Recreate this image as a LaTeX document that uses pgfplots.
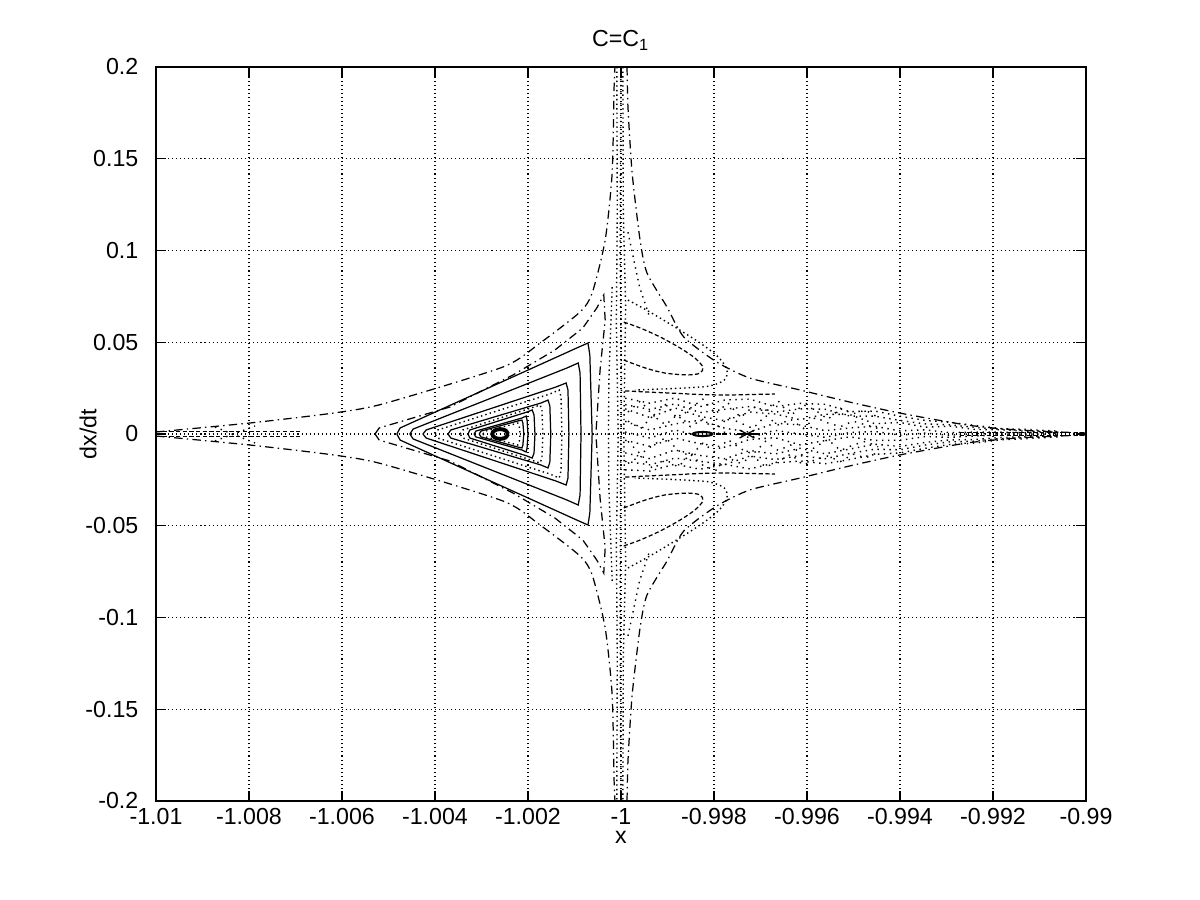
\documentclass[border=0pt]{standalone}
\usepackage{pgfplots}
\pgfplotsset{compat=1.18}
\usepackage{fontspec}
\setmainfont{Liberation Sans}
\newcommand\mfont{\fontsize{6.6}{7.6}\selectfont}
\pgfplotsset{
  sol/.style={black, line width=0.35pt, mark=none},
  dts/.style={black, line width=0.4pt, mark=none, dash pattern=on 0.4pt off 0.9pt},
  dsh/.style={black, line width=0.35pt, mark=none, dash pattern=on 1.2pt off 0.7pt},
  dd/.style={black, line width=0.35pt, mark=none, dash pattern=on 2.4pt off 1.2pt on 0.4pt off 1.2pt},
  chs/.style={black, line width=0.4pt, mark=none, dash pattern=on 0.4pt off 1.3pt},
  chz/.style={black, line width=0.4pt, mark=none, dash pattern=on 0.4pt off 1.7pt},
}
\begin{document}
\begin{tikzpicture}
\useasboundingbox (-1.56cm,-0.99cm) rectangle (10.44cm,8.01cm);
\begin{axis}[
  scale only axis, width=9.3cm, height=7.34cm,
  xmin=-1.01, xmax=-0.99, ymin=-0.2, ymax=0.2,
  xtick={-1.01,-1.008,-1.006,-1.004,-1.002,-1,-0.998,-0.996,-0.994,-0.992,-0.99},
  xticklabels={-1.01,-1.008,-1.006,-1.004,-1.002,-1,-0.998,-0.996,-0.994,-0.992,-0.99},
  ytick={-0.2,-0.15,-0.1,-0.05,0,0.05,0.1,0.15,0.2},
  yticklabels={-0.2,-0.15,-0.1,-0.05,0,0.05,0.1,0.15,0.2},
  tick align=inside, major tick length=2.8pt,
  every tick/.style={black, line width=0.4pt},
  axis line style={line width=0.4pt},
  grid=major,
  major grid style={black, line width=0.3pt, dash pattern=on 0.3pt off 0.85pt},
  tick label style={font=\mfont},
  xticklabel style={yshift=1.5pt},
  yticklabel style={xshift=-1.5pt},
  title={C=C\textsubscript{1}},
  xlabel={x}, ylabel={dx/dt},
  every axis title/.style={at={(0.5,1)}, anchor=base, yshift=5.7pt, font=\mfont},
  every axis x label/.style={at={(0.5,0)}, anchor=base, yshift=-12pt, font=\mfont},
  every axis y label/.style={at={(0,0.5)}, anchor=center, rotate=90, yshift=19.3pt, font=\mfont},
]
% outer separatrix arms
\addplot[dd, smooth, tension=0.4] coordinates {(-1.01,0.0011) (-1.00798,0.0060) (-1.00619,0.0114) (-1.00512,0.0164) (-1.00254,0.0365) (-1.00174,0.0496) (-1.00088,0.0665) (-1.00062,0.0768) (-1.00034,0.1057) (-1.00019,0.1422) (-1.00015,0.1875) (-1.00013,0.2)};
\addplot[dd, smooth, tension=0.4] coordinates {(-1.01,-0.0011) (-1.00798,-0.0060) (-1.00619,-0.0114) (-1.00512,-0.0164) (-1.00254,-0.0365) (-1.00174,-0.0496) (-1.00088,-0.0665) (-1.00062,-0.0768) (-1.00034,-0.1057) (-1.00019,-0.1422) (-1.00015,-0.1875) (-1.00013,-0.2)};
\addplot[dd, smooth, tension=0.4] coordinates {(-0.99987,0.2) (-0.99985,0.1782) (-0.99976,0.1422) (-0.99959,0.1057) (-0.99944,0.0877) (-0.99901,0.0692) (-0.99865,0.0529) (-0.99794,0.0392) (-0.99723,0.0305) (-0.99615,0.0240) (-0.99508,0.0174) (-0.99400,0.0114) (-0.99256,0.0049) (-0.99148,0.0022) (-0.99,0.0005)};
\addplot[dd, smooth, tension=0.4] coordinates {(-0.99987,-0.2) (-0.99985,-0.1782) (-0.99976,-0.1422) (-0.99959,-0.1057) (-0.99944,-0.0877) (-0.99901,-0.0692) (-0.99865,-0.0529) (-0.99794,-0.0392) (-0.99723,-0.0305) (-0.99615,-0.0240) (-0.99508,-0.0174) (-0.99400,-0.0114) (-0.99256,-0.0049) (-0.99148,-0.0022) (-0.99,-0.0005)};
% closed orbits around the island
\addplot[dd] coordinates {(-1.00529,0) (-1.00520,0.0033) (-1.00368,0.0147) (-1.00232,0.0322) (-1.00142,0.0458) (-1.00082,0.0578) (-1.00052,0.0687) (-1.00037,0.0758) (-1.00034,0.0621) (-1.00045,0.0349) (-1.00054,0) (-1.00045,-0.0349) (-1.00034,-0.0621) (-1.00037,-0.0758) (-1.00052,-0.0687) (-1.00082,-0.0578) (-1.00142,-0.0458) (-1.00232,-0.0322) (-1.00368,-0.0147) (-1.00520,-0.0033) (-1.00529,0)};
\addplot[sol] coordinates {(-1.00482,0) (-1.00475,0.0033) (-1.00095,0.0469) (-1.00071,0.0496) (-1.00067,0.0431) (-1.00062,0) (-1.00067,-0.0431) (-1.00071,-0.0496) (-1.00095,-0.0469) (-1.00475,-0.0033) (-1.00482,0)};
\addplot[sol] coordinates {(-1.00454,0) (-1.00447,0.0027) (-1.00116,0.0360) (-1.00092,0.0387) (-1.00088,0.0332) (-1.00086,0) (-1.00088,-0.0332) (-1.00092,-0.0387) (-1.00116,-0.0360) (-1.00447,-0.0027) (-1.00454,0)};
\addplot[sol] coordinates {(-1.00426,0) (-1.00419,0.0022) (-1.00140,0.0256) (-1.00118,0.0278) (-1.00114,0.0240) (-1.00112,0) (-1.00114,-0.0240) (-1.00118,-0.0278) (-1.00140,-0.0256) (-1.00419,-0.0022) (-1.00426,0)};
\addplot[dts] coordinates {(-1.00400,0) (-1.00394,0.0022) (-1.00153,0.0218) (-1.00133,0.0240) (-1.00129,0.0202) (-1.00127,0) (-1.00129,-0.0202) (-1.00133,-0.0240) (-1.00153,-0.0218) (-1.00394,-0.0022) (-1.00400,0)};
\addplot[sol] coordinates {(-1.00372,0) (-1.00366,0.0022) (-1.00172,0.0169) (-1.00157,0.0185) (-1.00153,0.0153) (-1.00151,0) (-1.00153,-0.0153) (-1.00157,-0.0185) (-1.00172,-0.0169) (-1.00366,-0.0022) (-1.00372,0)};
\addplot[dts] coordinates {(-1.00346,0) (-1.00340,0.0022) (-1.00187,0.0147) (-1.00174,0.0158) (-1.00170,0.0131) (-1.00168,0) (-1.00170,-0.0131) (-1.00174,-0.0158) (-1.00187,-0.0147) (-1.00340,-0.0022) (-1.00346,0)};
\addplot[sol] coordinates {(-1.00329,0) (-1.00325,0.0022) (-1.00202,0.0120) (-1.00191,0.0131) (-1.00187,0.0104) (-1.00185,0) (-1.00187,-0.0104) (-1.00191,-0.0131) (-1.00202,-0.0120) (-1.00325,-0.0022) (-1.00329,0)};
\addplot[sol] coordinates {(-1.00316,0) (-1.00312,0.0016) (-1.00213,0.0087) (-1.00204,0.0098) (-1.00202,0.0076) (-1.00200,0) (-1.00202,-0.0076) (-1.00204,-0.0098) (-1.00213,-0.0087) (-1.00312,-0.0016) (-1.00316,0)};
\addplot[sol] coordinates {(-1.00305,0) (-1.00301,0.0016) (-1.00222,0.0071) (-1.00213,0.0076) (-1.00211,0.0060) (-1.00209,0) (-1.00211,-0.0060) (-1.00213,-0.0076) (-1.00222,-0.0071) (-1.00301,-0.0016) (-1.00305,0)};
\addplot[dts] coordinates {(-1.00297,0) (-1.00292,0.0016) (-1.00228,0.0055) (-1.00222,0.0060) (-1.00219,0.0044) (-1.00217,0) (-1.00219,-0.0044) (-1.00222,-0.0060) (-1.00228,-0.0055) (-1.00292,-0.0016) (-1.00297,0)};
\addplot[black, line width=1.1pt, smooth, mark=none] coordinates {(-1.00243,0) (-1.00248,0.0019) (-1.00260,0.0027) (-1.00272,0.0019) (-1.00277,0) (-1.00272,-0.0019) (-1.00260,-0.0027) (-1.00248,-0.0019) (-1.00243,0)};
% chaotic strip along x = -1
\addplot[dts] coordinates {(-1.00009,0.2) (-1.00008,0.12) (-1.00010,0.06) (-1.00006,0) (-1.00010,-0.06) (-1.00008,-0.12) (-1.00009,-0.2)};
\addplot[chs] coordinates {(-1.0,0.2) (-1.00002,0.1) (-0.99999,0.03) (-1.00001,-0.03) (-1.00002,-0.1) (-1.0,-0.2)};
\addplot[dts] coordinates {(-0.99996,0.2) (-0.99995,0.12) (-0.99990,0.07) (-0.99994,0) (-0.99990,-0.07) (-0.99995,-0.12) (-0.99996,-0.2)};
\addplot[chs] coordinates {(-0.99985,0.11) (-0.99960,0.08) (-0.99940,0.065)};
\addplot[chs] coordinates {(-0.99985,-0.11) (-0.99960,-0.08) (-0.99940,-0.065)};
\addplot[dts] coordinates {(-1.00019,0.08) (-1.00026,0.03) (-1.00027,0) (-1.00026,-0.03) (-1.00019,-0.08)};
% lobes right of x = -1
\addplot[dsh, smooth] coordinates {(-0.99994,0.0610) (-0.99959,0.0578) (-0.99916,0.0529) (-0.99873,0.0469) (-0.99841,0.0414) (-0.99824,0.0365) (-0.99830,0.0332) (-0.99856,0.0322) (-0.99905,0.0332) (-0.99948,0.0360) (-0.99994,0.0403)};
\addplot[dsh, smooth] coordinates {(-0.99994,-0.0610) (-0.99959,-0.0578) (-0.99916,-0.0529) (-0.99873,-0.0469) (-0.99841,-0.0414) (-0.99824,-0.0365) (-0.99830,-0.0332) (-0.99856,-0.0322) (-0.99905,-0.0332) (-0.99948,-0.0360) (-0.99994,-0.0403)};
\addplot[dts, smooth] coordinates {(-0.99985,0.0730) (-0.99938,0.0665) (-0.99884,0.0583) (-0.99830,0.0496) (-0.99791,0.0420) (-0.99772,0.0349) (-0.99778,0.0294) (-0.99809,0.0262) (-0.99862,0.0251) (-0.99916,0.0245) (-0.99970,0.0240)};
\addplot[dts, smooth] coordinates {(-0.99985,-0.0730) (-0.99938,-0.0665) (-0.99884,-0.0583) (-0.99830,-0.0496) (-0.99791,-0.0420) (-0.99772,-0.0349) (-0.99778,-0.0294) (-0.99809,-0.0262) (-0.99862,-0.0251) (-0.99916,-0.0245) (-0.99970,-0.0240)};
% chaotic band
\addplot[chs] coordinates {(-0.99991,0.0195) (-0.99938,0.0168) (-0.99884,0.0196) (-0.99830,0.0149) (-0.99776,0.0186) (-0.99723,0.0190) (-0.99669,0.0149) (-0.99615,0.0167) (-0.99561,0.0162) (-0.99508,0.0122) (-0.99454,0.0125) (-0.99400,0.0097) (-0.99346,0.0074) (-0.99293,0.0064) (-0.99239,0.0047) (-0.99185,0.0030) (-0.99120,0.0024) (-0.99056,0.0015)};
\addplot[chs] coordinates {(-0.99991,0.0160) (-0.99938,0.0134) (-0.99884,0.0164) (-0.99830,0.0117) (-0.99776,0.0135) (-0.99723,0.0150) (-0.99669,0.0119) (-0.99615,0.0137) (-0.99561,0.0135) (-0.99508,0.0098) (-0.99454,0.0097) (-0.99400,0.0074) (-0.99346,0.0055) (-0.99293,0.0050) (-0.99239,0.0036) (-0.99185,0.0027) (-0.99120,0.0018) (-0.99056,0.0012)};
\addplot[chs] coordinates {(-0.99991,0.0137) (-0.99938,0.0090) (-0.99884,0.0142) (-0.99830,0.0096) (-0.99776,0.0072) (-0.99723,0.0120) (-0.99669,0.0109) (-0.99615,0.0078) (-0.99561,0.0108) (-0.99508,0.0106) (-0.99454,0.0056) (-0.99400,0.0063) (-0.99346,0.0037) (-0.99293,0.0043) (-0.99239,0.0025) (-0.99185,0.0023) (-0.99120,0.0014) (-0.99056,0.0009)};
\addplot[chs] coordinates {(-0.99991,0.0069) (-0.99938,0.0022) (-0.99884,0.0055) (-0.99830,0.0075) (-0.99776,0.0031) (-0.99723,0.0010) (-0.99669,0.0059) (-0.99615,0.0049) (-0.99561,0.0018) (-0.99508,0.0033) (-0.99454,0.0042) (-0.99400,0.0017) (-0.99346,0.0023) (-0.99293,0.0007) (-0.99239,0.0011) (-0.99185,0.0010) (-0.99120,0.0006) (-0.99056,0.0004)};
\addplot[chs] coordinates {(-0.99991,0.0011) (-0.99938,-0.0022) (-0.99884,0.0022) (-0.99830,-0.0011) (-0.99776,0.0010) (-0.99723,-0.0020) (-0.99669,0.0020) (-0.99615,0) (-0.99561,-0.0018) (-0.99508,0.0008) (-0.99454,0.0014) (-0.99400,-0.0006) (-0.99346,0.0005) (-0.99293,-0.0007) (-0.99239,0.0003) (-0.99185,0) (-0.99120,0) (-0.99056,0)};
\addplot[chs] coordinates {(-0.99991,-0.0034) (-0.99938,-0.0067) (-0.99884,-0.0022) (-0.99830,-0.0053) (-0.99776,-0.0072) (-0.99723,-0.0030) (-0.99669,-0.0020) (-0.99615,-0.0059) (-0.99561,-0.0036) (-0.99508,-0.0016) (-0.99454,-0.0035) (-0.99400,-0.0034) (-0.99346,-0.0014) (-0.99293,-0.0018) (-0.99239,-0.0011) (-0.99185,-0.0006) (-0.99120,-0.0006) (-0.99056,-0.0004)};
\addplot[chs] coordinates {(-0.99991,-0.0103) (-0.99938,-0.0134) (-0.99884,-0.0087) (-0.99830,-0.0117) (-0.99776,-0.0135) (-0.99723,-0.0090) (-0.99669,-0.0109) (-0.99615,-0.0078) (-0.99561,-0.0108) (-0.99508,-0.0082) (-0.99454,-0.0056) (-0.99400,-0.0068) (-0.99346,-0.0046) (-0.99293,-0.0032) (-0.99239,-0.0030) (-0.99185,-0.0019) (-0.99120,-0.0014) (-0.99056,-0.0009)};
\addplot[chs] coordinates {(-0.99991,-0.0149) (-0.99938,-0.0168) (-0.99884,-0.0131) (-0.99830,-0.0149) (-0.99776,-0.0166) (-0.99723,-0.0120) (-0.99669,-0.0139) (-0.99615,-0.0118) (-0.99561,-0.0135) (-0.99508,-0.0106) (-0.99454,-0.0083) (-0.99400,-0.0086) (-0.99346,-0.0060) (-0.99293,-0.0043) (-0.99239,-0.0039) (-0.99185,-0.0025) (-0.99120,-0.0018) (-0.99056,-0.0012)};
\addplot[chs] coordinates {(-0.99991,-0.0195) (-0.99938,-0.0202) (-0.99884,-0.0164) (-0.99830,-0.0192) (-0.99776,-0.0166) (-0.99723,-0.0190) (-0.99669,-0.0158) (-0.99615,-0.0147) (-0.99561,-0.0162) (-0.99508,-0.0139) (-0.99454,-0.0111) (-0.99400,-0.0103) (-0.99346,-0.0078) (-0.99293,-0.0057) (-0.99239,-0.0050) (-0.99185,-0.0032) (-0.99120,-0.0024) (-0.99056,-0.0015)};
% zigzag scatter in the wide part of the band
\addplot[chz] coordinates {(-0.99985,0.012) (-0.99958,0.018) (-0.99931,0.010) (-0.99904,0.016) (-0.99877,0.008) (-0.99851,0.014) (-0.99824,0.019) (-0.99797,0.011) (-0.99770,0.017) (-0.99743,0.009) (-0.99716,0.015) (-0.99689,0.012) (-0.99662,0.018) (-0.99635,0.010) (-0.99608,0.016) (-0.99582,0.013) (-0.99555,0.008) (-0.99528,0.014) (-0.99501,0.011) (-0.99474,0.013) (-0.99447,0.009)};
\addplot[chz] coordinates {(-0.99985,0.007) (-0.99958,0.003) (-0.99931,0.010) (-0.99904,0.005) (-0.99877,0.011) (-0.99851,0.004) (-0.99824,0.008) (-0.99797,0.002) (-0.99770,0.009) (-0.99743,0.006) (-0.99716,0.003) (-0.99689,0.010) (-0.99662,0.005) (-0.99635,0.008) (-0.99608,0.003) (-0.99582,0.009) (-0.99555,0.006) (-0.99528,0.004) (-0.99501,0.007) (-0.99474,0.005) (-0.99447,0.003)};
\addplot[chz] coordinates {(-0.99985,-0.004) (-0.99958,-0.011) (-0.99931,-0.006) (-0.99904,-0.002) (-0.99877,-0.009) (-0.99851,-0.012) (-0.99824,-0.005) (-0.99797,-0.010) (-0.99770,-0.003) (-0.99743,-0.008) (-0.99716,-0.011) (-0.99689,-0.004) (-0.99662,-0.009) (-0.99635,-0.006) (-0.99608,-0.012) (-0.99582,-0.007) (-0.99555,-0.003) (-0.99528,-0.009) (-0.99501,-0.006) (-0.99474,-0.004) (-0.99447,-0.007)};
\addplot[chz] coordinates {(-0.99985,-0.016) (-0.99958,-0.012) (-0.99931,-0.019) (-0.99904,-0.014) (-0.99877,-0.018) (-0.99851,-0.011) (-0.99824,-0.017) (-0.99797,-0.020) (-0.99770,-0.013) (-0.99743,-0.016) (-0.99716,-0.012) (-0.99689,-0.018) (-0.99662,-0.015) (-0.99635,-0.011) (-0.99608,-0.017) (-0.99582,-0.014) (-0.99555,-0.012) (-0.99528,-0.015) (-0.99501,-0.011) (-0.99474,-0.013) (-0.99447,-0.010)};
\addplot[dsh] coordinates {(-0.99991,0.0235) (-0.99938,0.0228) (-0.99884,0.0222) (-0.99830,0.0215) (-0.99776,0.0212) (-0.99723,0.0215) (-0.99669,0.0218)};
\addplot[dsh] coordinates {(-0.99991,-0.0235) (-0.99938,-0.0228) (-0.99884,-0.0222) (-0.99830,-0.0215) (-0.99776,-0.0212) (-0.99723,-0.0215) (-0.99669,-0.0218)};
% small islands inside the band
\addplot[black, line width=0.6pt, smooth, mark=none] coordinates {(-0.99802,0) (-0.99810,0.0008) (-0.99824,0.0011) (-0.99839,0.0008) (-0.99846,0) (-0.99839,-0.0008) (-0.99824,-0.0011) (-0.99810,-0.0008) (-0.99802,0)};
\addplot[sol] coordinates {(-0.99745,0.0022) (-0.99713,-0.0022)};
\addplot[sol] coordinates {(-0.99745,-0.0022) (-0.99713,0.0022)};
\addplot[sol] coordinates {(-0.99750,0) (-0.99700,0)};
\addplot[dsh] coordinates {(-0.99795,0) (-0.99770,0)};
% thin layers near the two ends
\addplot[dsh] coordinates {(-0.99271,0.0010) (-0.99,0.0010)};
\addplot[dsh] coordinates {(-0.99271,-0.0010) (-0.99,-0.0010)};
\addplot[dsh] coordinates {(-1.01,0.0012) (-1.0069,0.0012)};
\addplot[dsh] coordinates {(-1.01,-0.0012) (-1.0069,-0.0012)};
\addplot[chs] coordinates {(-1.00873,0.0038) (-1.00787,-0.0049)};
\addplot[chs] coordinates {(-1.00873,-0.0038) (-1.00787,0.0044)};
\end{axis}
\end{tikzpicture}
\end{document}
